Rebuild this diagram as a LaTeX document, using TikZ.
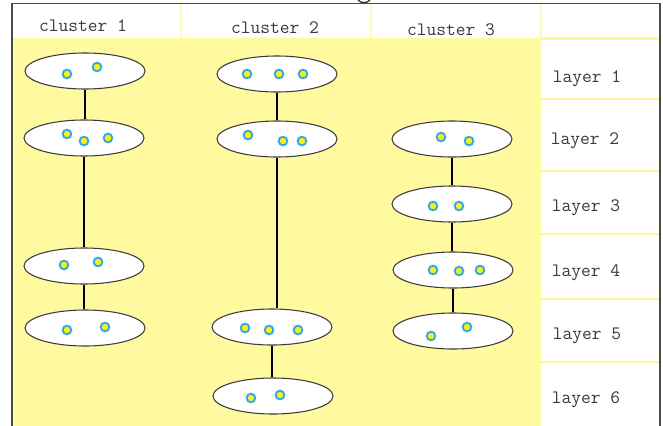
\documentclass[tikz,border=0pt]{standalone}
\usepackage{fontspec}
\usetikzlibrary{shapes.geometric}
\definecolor{bgyellow}{HTML}{FFF9A0}
\definecolor{sepyellow}{HTML}{FFF7A0}
\definecolor{dotblue}{HTML}{2EA8F2}
\definecolor{dotyellow}{HTML}{FFF200}
\definecolor{rimgray}{HTML}{3C3C3C}
\definecolor{txtgray}{HTML}{3A3A3A}
\tikzset{
  group/.style={ellipse, draw=rimgray, fill=white, line width=0.8pt,
    minimum width=90pt, minimum height=27pt, inner sep=0pt},
  member/.style={circle, draw=dotblue, fill=dotyellow, line width=1.4pt,
    minimum size=6.5pt, inner sep=0pt},
  link/.style={draw=black, line width=1.5pt},
  label/.style={font=\ttfamily\fontsize{14.2}{16}\selectfont, text=txtgray,
    anchor=base, inner sep=0pt},
}
\begin{document}
\begin{tikzpicture}[x=0.75pt, y=-0.75pt]
\useasboundingbox (0,0) rectangle (663,425);
% table background
\fill[white] (13,4) rectangle (660,38);
\fill[bgyellow] (13,38) rectangle (541,430);
\fill[white] (541,38) rectangle (660,430);
% header column rules
\foreach \xx in {181,371,541}
  \draw[sepyellow!70!white, line width=2pt] (\xx,4) -- (\xx,38);
% layer row rules
\foreach \yy in {38.5,99,171,234,299,362}
  \draw[sepyellow, line width=1.6pt] (541,\yy) -- (660,\yy);
% outer frame
\draw[draw=black!70, line width=1.2pt] (12,430) -- (12,3.5) -- (660,3.5) -- (660,430);
\draw[draw=black!80, line width=1pt] (358,0) .. controls (361,3.5) and (367,3.5) .. (370,0);

% headings
\node[label] (h1) at (83,31) {cluster 1};
\node[label] (h2) at (275,33) {cluster 2};
\node[label] (h3) at (451,35) {cluster 3};
\node[label] (l1) at (587,82) {layer 1};
\node[label] (l2) at (585,144) {layer 2};
\node[label] (l3) at (586,211) {layer 3};
\node[label] (l4) at (586,276) {layer 4};
\node[label] (l5) at (587,339) {layer 5};
\node[label] (l6) at (586,403) {layer 6};

% cluster 1
\node[group] (a1) at (85,71) {};
\node[group] (a2) at (84,138) {};
\node[group] (a3) at (84,266) {};
\node[group] (a4) at (85,328) {};
% cluster 2
\node[group] (b1) at (277,74) {};
\node[group] (b2) at (277,139) {};
\node[group] (b5) at (272,327) {};
\node[group] (b6) at (273,396) {};
% cluster 3
\node[group] (c2) at (452,139) {};
\node[group] (c3) at (452,204) {};
\node[group] (c4) at (453,270) {};
\node[group] (c5) at (453,331) {};

% links
\draw[link] (a1.south) -- (a1.south |- a2.north);
\draw[link] (a2.south) -- (a2.south |- a3.north);
\draw[link] (a3.south) -- (a3.south |- a4.north);
\draw[link] (b1.south) -- (b1.south |- b2.north);
\draw[link] (b2.south) -- (b2.south |- b5.north);
\draw[link] (b5.south) -- (b5.south |- b6.north);
\draw[link] (c2.south) -- (c2.south |- c3.north);
\draw[link] (c3.south) -- (c3.south |- c4.north);
\draw[link] (c4.south) -- (c4.south |- c5.north);

% members
\node[member] (a1m1) at (67,74) {};
\node[member] (a1m2) at (97,67) {};
\node[member] (a2m1) at (67,134) {};
\node[member] (a2m2) at (84,141) {};
\node[member] (a2m3) at (108,138) {};
\node[member] (a3m1) at (64,265) {};
\node[member] (a3m2) at (98,262) {};
\node[member] (a4m1) at (67,330) {};
\node[member] (a4m2) at (105,327) {};

\node[member] (b1m1) at (247,74) {};
\node[member] (b1m2) at (279,74) {};
\node[member] (b1m3) at (303,74) {};
\node[member] (b2m1) at (248,135) {};
\node[member] (b2m2) at (283,141) {};
\node[member] (b2m3) at (302,141) {};
\node[member] (b5m1) at (245,328) {};
\node[member] (b5m2) at (269,330) {};
\node[member] (b5m3) at (298,330) {};
\node[member] (b6m1) at (251,398) {};
\node[member] (b6m2) at (280,395) {};

\node[member] (c2m1) at (441,137) {};
\node[member] (c2m2) at (469,141) {};
\node[member] (c3m1) at (433,206) {};
\node[member] (c3m2) at (459,206) {};
\node[member] (c4m1) at (433,270) {};
\node[member] (c4m2) at (459,271) {};
\node[member] (c4m3) at (480,270) {};
\node[member] (c5m1) at (431,336) {};
\node[member] (c5m2) at (467,327) {};
\end{tikzpicture}
\end{document}
